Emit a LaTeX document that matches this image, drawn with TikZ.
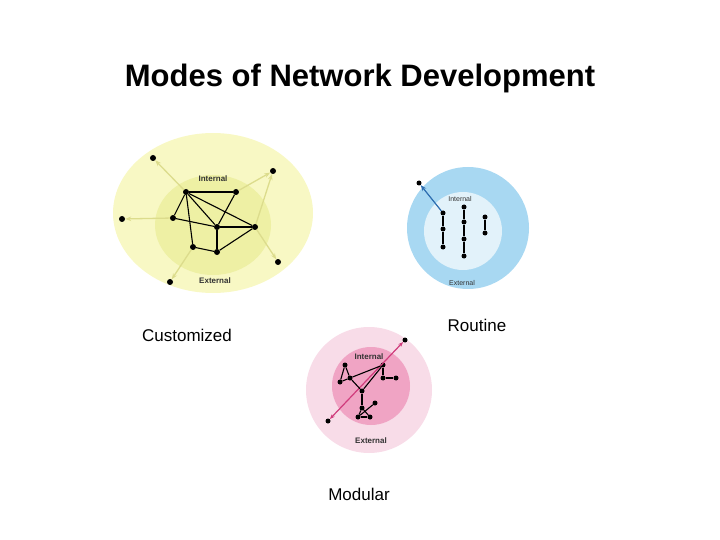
\documentclass[tikz,border=0pt]{standalone}
\usepackage{fontspec}
\setmainfont{Liberation Sans}
\usetikzlibrary{arrows.meta}
\definecolor{cyout}{HTML}{F8F8C4}
\definecolor{cyin}{HTML}{EEF0A4}
\definecolor{cyarc}{HTML}{DCDC8C}
\definecolor{cbout}{HTML}{A8D8F2}
\definecolor{cbin}{HTML}{E2F2FA}
\definecolor{cbarr}{HTML}{2E6EB0}
\definecolor{cpout}{HTML}{F8DCE8}
\definecolor{cpin}{HTML}{F0A4C4}
\definecolor{cparr}{HTML}{D03C7C}
\begin{document}
\begin{tikzpicture}[x=1pt,y=-1pt,
  dot/.style={circle,fill=black,inner sep=0pt,minimum size=6pt},
  edge/.style={black,line width=1.1pt},
  small/.style={font=\bfseries\fontsize{8}{9}\selectfont,text=black!80},
  lab/.style={font=\fontsize{17}{20}\selectfont},
  yarr/.style={draw=cyarc,line width=1.3pt,-{Stealth[length=6pt]}},
  barr/.style={draw=cbarr,line width=1.2pt,-{Stealth[length=6pt]}},
  parr/.style={draw=cparr,line width=1.2pt,{Stealth[length=5pt]}-{Stealth[length=5pt]}}]
\useasboundingbox (0,0) rectangle (720,540);
\node[font=\bfseries\fontsize{31}{36}\selectfont] (title) at (360,78) {Modes of Network Development};
% Customized
\fill[cyout] (213,213) ellipse (100 and 80);
\fill[cyin] (213,225) ellipse (58 and 50);
\node[small] (ci) at (213,179) {Internal};
\node[small] (ce) at (215,281) {External};
\foreach \n/\p in {A/{186,192},B/{236,192},C/{173,218},D/{217,227},E/{255,227},F/{193,247},G/{217,252},X1/{153,158},X2/{273,171},X3/{122,219},X4/{278,262},X5/{170,282}}
  \node[dot] (c\n) at (\p) {};
\foreach \a/\b in {A/X1,B/X2,C/X3,E/X2,E/X4,F/X5}
  \draw[yarr] (c\a) -- (c\b);
\foreach \a/\b in {A/B,A/C,A/F,A/D,A/E,B/D,C/D,D/E,D/G,F/G,G/E}
  \draw[edge] (c\a) -- (c\b);
\node[lab] (cust) at (187,335) {Customized};
% Routine
\fill[cbout] (468,228) circle (61);
\fill[cbin] (463,231) circle (39);
\node[small,font=\fontsize{7}{8}\selectfont] (ri) at (460,199) {Internal};
\node[small,font=\fontsize{7}{8}\selectfont] (re) at (462,283) {External};
\foreach \n/\p in {1/{443,213},2/{443,229},3/{443,247},4/{464,207},5/{464,222},6/{464,239},7/{464,256},8/{485,217},9/{485,233},X/{419,183}}
  \node[dot,minimum size=5pt] (r\n) at (\p) {};
\foreach \a/\b in {1/2,2/3,4/5,5/6,6/7,8/9}
  \draw[edge] (r\a) -- (r\b);
\draw[barr] (r1) -- (rX);
\node[lab] (rout) at (477,325) {Routine};
% Modular
\fill[cpout] (369,390) circle (63);
\fill[cpin] (371,386) circle (39);
\node[small] (mi) at (369,357) {Internal};
\node[small] (me) at (371,441) {External};
\foreach \n/\p in {1/{345,365},2/{340,382},3/{350,378},4/{383,365},5/{383,378},6/{396,378},7/{362,391},8/{362,408},9/{375,403},10/{358,417},11/{370,417},X/{405,340},Y/{328,421}}
  \node[dot,minimum size=5pt] (m\n) at (\p) {};
\draw[parr] (mY) -- (mX);
\foreach \a/\b in {1/2,1/3,2/3,3/4,3/7,4/7,4/5,5/6,7/8,8/10,8/11,10/11,10/9}
  \draw[edge] (m\a) -- (m\b);
\node[lab] (mod) at (359,494) {Modular};
\end{tikzpicture}
\end{document}
